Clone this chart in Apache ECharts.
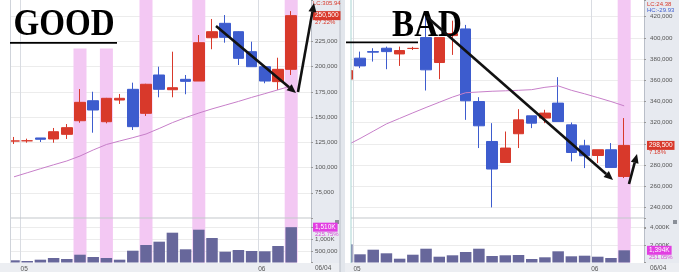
<!DOCTYPE html>
<html><head><meta charset="utf-8">
<script src="https://cdn.jsdelivr.net/npm/echarts@6/dist/echarts.min.js"></script>
<style>html,body{margin:0;padding:0;background:#fff}#c{width:679px;height:272px}</style>
</head><body><div id="c"></div>
<script>
// ---------- data ----------
const dates = ['04/30','05/03','05/04','05/06','05/07','05/10','05/11','05/12','05/13','05/14','05/17','05/19','05/20','05/24','05/25','05/26','05/27','05/28','05/31','06/01','06/03','06/04'];
// [open, close, low, high]
const goodOHLC = [
 [126300,126300,123300,130300],[126500,126500,124600,128600],[129300,128000,125300,129300],
 [128300,135500,124600,139200],[132900,139500,128300,143100],[146400,164600,144400,177800],
 [166200,157000,134500,175100],[145400,168600,143800,169000],[166900,168600,163000,172900],
 [177500,140500,137200,184100],[153700,182500,151100,183000],[191700,177500,169600,199900],
 [177100,179100,169600,214800],[187400,185400,172600,191700],[185700,223700,185700,231300],
 [228600,234600,217200,247200],[242900,229000,223700,251100],[234600,208200,201600,235000],
 [214800,199900,199900,224700],[199900,185700,183500,200500],[185100,197300,176800,208800],
 [197300,250500,191700,255000]
];
const goodMA = [90800,94800,98800,102700,106500,111400,117400,122800,126300,129600,133200,138700,144500,149500,154000,158100,161800,165500,169500,173200,177000,180800];
const goodVol = [94000,64000,120000,192000,150000,333000,235000,192000,120000,504000,748000,890000,1274000,564000,1402000,1047000,462000,534000,491000,479000,705000,1510000];
const goodBands = ['05/10','05/12','05/17','05/25','06/04'];
const goodBandTops = [218000,218000,null,null,null];

const badOHLC = [
 [361000,369100,360000,370000],[380800,373500,371400,387000],[387000,386500,377600,390200],
 [390200,387000,370400,391700],[384800,388000,373500,391700],[390000,390000,388500,391500],
 [400200,369800,350300,424700],[376700,400200,361000,400200],[402100,404000,383900,416200],
 [408400,340600,322600,412200],[339900,317000,296000,344000],[302200,276200,240000,319500],
 [282400,296000,282400,311600],[309500,322600,296000,332700],[326400,319500,314800,326400],
 [324300,329000,319500,332100],[338400,321000,321000,362900],[317900,291800,283400,320100],
 [298100,288700,277100,303800],[289000,294400,281800,294400],[294400,277700,277700,300700],
 [269200,298500,267700,324300]
];
const badMA = [298600,305000,311900,318800,324000,329200,334300,339200,344100,348200,348900,349600,350000,350500,351100,353300,354700,350500,347200,343600,339900,335800];
const badVol = [2080000,937000,1463000,1051000,434000,891000,1577000,663000,823000,1200000,1577000,743000,823000,857000,400000,594000,1280000,709000,777000,663000,514000,1394000];
const badBands = ['06/04'];
const badBandTops = [null];

const goodPriceLabels = [75000,100000,125000,150000,175000,200000,225000];
const badPriceLabels = [240000,260000,280000,320000,340000,360000,380000,400000,420000];
const goodVolLabels = [500000,1000000];
const badVolLabels = [2000000,4000000];
const goodPct = '27.22%', badPct = '7.18%';
const goodVolPct = '225.75%', badVolPct = '251.05%';
const goodTopText = ['LC:305.94'];
const badTopText = ['LC:24.38','HC:-29.93'];

// ---------- helpers ----------
const RED = '#d8392b', BLUE = '#3d5cce', VOLC = '#67679b', PINK = '#f3c8f3', MAC = '#c77fc9', MAG = '#e23fe2';
const FF = '"Liberation Sans","Noto Sans CJK KR",sans-serif';
const fmt = n => String(Math.round(n)).replace(/\B(?=(\d{3})+(?!\d))/g, ',');
const volFmt = v => v >= 1e6 ? fmt(v/1000) + 'K' : fmt(v);
const cats = dates.concat(['']);
const isMonthStart = (i) => i > 0 && i < dates.length && dates[i].slice(0,2) !== dates[i-1].slice(0,2);

const GP = {min:50000, max:266000, interval:25000};
const BP = {min:220000, max:435700, interval:20000};
const GV = {min:0, max:1902000, interval:500000};
const BV = {min:0, max:5086000, interval:2000000};

const GL = {left:7.4, width:303.6}, GR = {left:340.2, width:303.8};

function bandData(bands, tops, fullVal) {
  return cats.map(d => { const k = bands.indexOf(d); if (k < 0) return '-'; return tops ? (tops[k] == null ? fullVal : tops[k]) : fullVal; });
}
function xCat(grid, opts) {
  return Object.assign({type:'category', gridIndex:grid, data:cats, boundaryGap:true,
    axisLine:{show:false}, axisTick:{show:false}, axisLabel:{show:false}, splitLine:{show:false}}, opts||{});
}
const monthSplit = {show:true, interval:(i) => isMonthStart(i), lineStyle:{color:'#d9dce2', width:1}};
const monthLabel = {show:true, interval:(i) => isMonthStart(i), formatter:v => v.slice(0,2), fontSize:6.5, color:'#555', margin:3, padding:[0,6,0,0], fontFamily:FF};
function yVal(grid, sc, labels, fmtFn, margin) {
  return {type:'value', gridIndex:grid, position:'right', min:sc.min, max:sc.max, interval:sc.interval, scale:true,
    axisLine:{show:true, lineStyle:{color:'#b9bec8'}}, axisTick:{show:true, length:2, lineStyle:{color:'#999'}},
    axisLabel:{fontSize:6.2, color:'#555', margin:margin, fontFamily:FF, formatter:v => labels.indexOf(v) >= 0 ? fmtFn(v) : ''},
    splitLine:{show:true, showMinLine:false, showMaxLine:false, lineStyle:{color:'#ececec', width:1}}};
}
function extremePoint(ohlc, kind, color) {
  let idx = 0;
  ohlc.forEach((c,i) => { if (kind === 'max' ? c[3] > ohlc[idx][3] : c[2] < ohlc[idx][2]) idx = i; });
  const v = kind === 'max' ? ohlc[idx][3] : ohlc[idx][2];
  const word = kind === 'max' ? '최고' : '최저';
  return {symbol:'circle', symbolSize:1, itemStyle:{opacity:0}, silent:true,
    data:[{coord:[dates[idx], v], value:v}],
    label:{show:true, position:'left', distance:6, color:color, fontSize:6, fontFamily:FF,
      formatter:`${word} ${fmt(v)} (${dates[idx]}) →`}};
}
function candle(xi, yi, ohlc, mp) {
  return {type:'candlestick', xAxisIndex:xi, yAxisIndex:yi, data:ohlc, barWidth:11, z:3,
    itemStyle:{color:RED, color0:BLUE, borderColor:RED, borderColor0:BLUE, borderColorDoji:RED, borderWidth:1},
    markPoint:mp, silent:true};
}
function arrow(x1,y1,x2,y2) {
  const a = Math.atan2(y2-y1, x2-x1), L = 9, W = 4;
  const bx = x2 - L*Math.cos(a), by = y2 - L*Math.sin(a);
  return [
    {type:'line', z:200, shape:{x1:x1,y1:y1,x2:bx,y2:by}, style:{stroke:'#111', lineWidth:2.6}},
    {type:'polygon', z:200, shape:{points:[[x2,y2],[bx+W*Math.sin(a), by-W*Math.cos(a)],[bx-W*Math.sin(a), by+W*Math.cos(a)]]}, style:{fill:'#111'}}
  ];
}
function txt(x, y, s, color, size, align) {
  return {type:'text', z:150, x:x, y:y, style:{text:s, fill:color, font:size + 'px ' + FF, align:align||'left', verticalAlign:'middle'}};
}
function boxTxt(x, y, s, bg) {
  return {type:'text', z:160, x:x, y:y, style:{text:s, fill:'#fff', backgroundColor:bg, padding:[1.5,2,1,2], font:'6.5px ' + FF, align:'left', verticalAlign:'middle'}};
}

const graphic = [
  {type:'rect', z:-10, shape:{x:311, y:0, width:29, height:272}, style:{fill:'#e7eaf0'}},
  {type:'rect', z:-10, shape:{x:644, y:0, width:35, height:272}, style:{fill:'#e7eaf0'}},
  {type:'rect', z:-10, shape:{x:0, y:263, width:679, height:9}, style:{fill:'#eceef2'}},
  {type:'rect', z:100, shape:{x:0, y:0, width:10.5, height:263}, style:{fill:'#fff'}},
  {type:'line', z:100, shape:{x1:10.5, y1:0, x2:10.5, y2:263}, style:{stroke:'#cfd3da', lineWidth:1}},
  {type:'rect', z:100, shape:{x:340, y:0, width:5, height:272}, style:{fill:'#e2e6ec'}},
  {type:'rect', z:100, shape:{x:345, y:0, width:6, height:263}, style:{fill:'#fff'}},
  {type:'line', z:100, shape:{x1:340, y1:0, x2:340, y2:272}, style:{stroke:'#b8bdc6', lineWidth:1}},
  {type:'line', z:100, shape:{x1:351, y1:0, x2:351, y2:263}, style:{stroke:'#a8d4d2', lineWidth:1}},
  {type:'line', z:5, shape:{x1:10.5, y1:218, x2:311, y2:218}, style:{stroke:'#c4c7cc', lineWidth:1.2}},
  {type:'line', z:5, shape:{x1:351, y1:218, x2:644, y2:218}, style:{stroke:'#c4c7cc', lineWidth:1.2}},
  {type:'rect', z:120, shape:{x:335, y:220, width:4, height:4}, style:{fill:'#8a8f98'}},
  {type:'rect', z:120, shape:{x:673, y:220, width:4, height:4}, style:{fill:'#8a8f98'}},
  txt(313, 3.5, goodTopText[0], RED, 6),
  txt(647, 4, badTopText[0], RED, 6),
  txt(647, 10.5, badTopText[1], BLUE, 6),
  txt(315, 268, dates[dates.length-1], '#555', 6.5),
  txt(650, 268, dates[dates.length-1], '#555', 6.5),
  {type:'text', z:150, x:12, y:25.6, scaleX:0.87, originX:12, originY:25.6, style:{text:'GOOD', fill:'#000', font:'bold 38px "Liberation Serif", serif', align:'left', verticalAlign:'middle'}},
  {type:'rect', z:150, shape:{x:10, y:42, width:107, height:1.8}, style:{fill:'#000'}},
  {type:'text', z:150, x:347, y:25.8, scaleX:0.87, originX:347, originY:25.8, style:{text:'BAD', fill:'#000', font:'bold 38px "Liberation Serif", serif', align:'left', verticalAlign:'middle'}},
  {type:'rect', z:150, shape:{x:346, y:41.5, width:72, height:1.8}, style:{fill:'#000'}}
].concat(arrow(216,26,296,93), arrow(298,92,314,3), arrow(427,17,613,180), arrow(629,184,637,154));

const option = {
  animation:false,
  textStyle:{fontFamily:FF},
  grid:[
    {left:GL.left, width:GL.width, top:0, height:218, outerBoundsMode:'none'},
    {left:GL.left, width:GL.width, top:218, height:44.5, outerBoundsMode:'none'},
    {left:GR.left, width:GR.width, top:0, height:228.6, outerBoundsMode:'none'},
    {left:GR.left, width:GR.width, top:218, height:44.5, outerBoundsMode:'none'}
  ],
  xAxis:[
    xCat(0, {splitLine:monthSplit}),
    xCat(1, {axisLabel:monthLabel}),
    xCat(1, {splitLine:monthSplit}),
    xCat(2, {splitLine:monthSplit}),
    xCat(3, {axisLabel:monthLabel}),
    xCat(3, {splitLine:monthSplit})
  ],
  yAxis:[
    yVal(0, GP, goodPriceLabels, fmt, 4),
    yVal(1, GV, goodVolLabels, volFmt, 4),
    yVal(2, BP, badPriceLabels, fmt, 6),
    yVal(3, BV, badVolLabels, volFmt, 6)
  ],
  series:[
    {type:'bar', xAxisIndex:0, yAxisIndex:0, data:bandData(goodBands, goodBandTops, GP.max), barWidth:13, itemStyle:{color:PINK}, z:1, silent:true},
    candle(0, 0, goodOHLC, extremePoint(goodOHLC,'max','#d0473b')),
    {type:'line', xAxisIndex:0, yAxisIndex:0, data:goodMA, symbol:'none', lineStyle:{color:MAC, width:1}, z:4, silent:true},
    {type:'bar', xAxisIndex:2, yAxisIndex:1, data:bandData(goodBands, null, GV.max), barWidth:13, itemStyle:{color:PINK}, z:1, silent:true},
    {type:'bar', xAxisIndex:1, yAxisIndex:1, data:goodVol, barWidth:11.5, itemStyle:{color:VOLC}, z:3, silent:true},

    {type:'bar', xAxisIndex:3, yAxisIndex:2, data:bandData(badBands, badBandTops, BP.max), barWidth:13, itemStyle:{color:PINK}, z:1, silent:true},
    candle(3, 2, badOHLC, extremePoint(badOHLC,'min','#3b3ba8')),
    {type:'line', xAxisIndex:3, yAxisIndex:2, data:badMA, symbol:'none', lineStyle:{color:MAC, width:1}, z:4, silent:true},
    {type:'bar', xAxisIndex:5, yAxisIndex:3, data:bandData(badBands, null, BV.max), barWidth:13, itemStyle:{color:PINK}, z:1, silent:true},
    {type:'bar', xAxisIndex:4, yAxisIndex:3, data:badVol, barWidth:11.5, itemStyle:{color:VOLC}, z:3, silent:true}
  ],
  graphic:graphic
};
const chart = echarts.init(document.getElementById('c'), null, {renderer:'canvas'});
chart.setOption(option);

// last-value tags on the right axes, positioned through the axes' own scales
const gClose = goodOHLC[goodOHLC.length-1][1], bClose = badOHLC[badOHLC.length-1][1];
const gV = goodVol[goodVol.length-1], bV = badVol[badVol.length-1];
const yGC = chart.convertToPixel({yAxisIndex:0}, gClose);
const yGV = chart.convertToPixel({yAxisIndex:1}, gV);
const yBC = chart.convertToPixel({yAxisIndex:2}, bClose);
const yBV = chart.convertToPixel({yAxisIndex:3}, bV);
const tags = [
  boxTxt(313, yGC, fmt(gClose), RED), txt(315, yGC + 7, goodPct, RED, 6),
  boxTxt(313, yGV, volFmt(gV), MAG), txt(315, yGV + 7, goodVolPct, '#d84ad8', 6),
  boxTxt(647, yBC, fmt(bClose), RED), txt(649, yBC + 7, badPct, RED, 6),
  boxTxt(647, yBV, volFmt(bV), MAG), txt(649, yBV + 7, badVolPct, '#d84ad8', 6)
];
chart.setOption({graphic: graphic.concat(tags)});
</script>
</body></html>
